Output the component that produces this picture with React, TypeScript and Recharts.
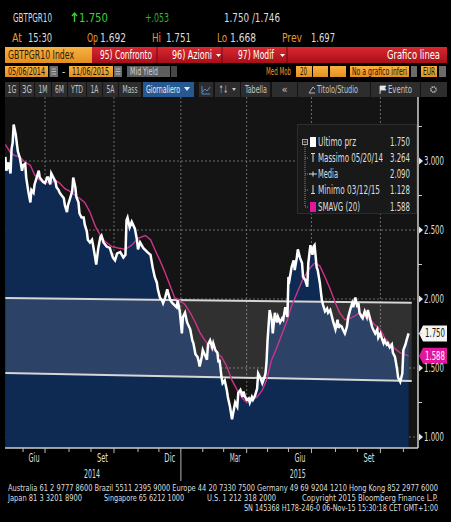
import React from "react";
import {
  Area,
  CartesianGrid,
  ComposedChart,
  Legend,
  Line,
  ReferenceLine,
  XAxis,
  YAxis,
} from "recharts";

// trading-day index since 05/06/2014 and BTP 10y yield
const tradingDay = [
  2, 3, 5, 7, 8, 9, 10, 12, 14, 16, 18, 19,
  21, 22, 24, 26, 27, 29, 30, 32, 34, 35, 37, 38,
  40, 42, 43, 45, 46, 48, 50, 51, 53, 54, 56, 58,
  59, 61, 62, 64, 66, 67, 69, 70, 72, 73, 75, 77,
  78, 80, 81, 83, 85, 86, 88, 89, 91, 93, 94, 96,
  99, 102, 105, 107, 109, 112, 115, 117, 118, 119, 121, 123,
  126, 128, 129, 131, 134, 138, 141, 143, 145, 147, 148, 150,
  152, 153, 155, 157, 158, 160, 162, 166, 167, 169, 171, 172,
  174, 176, 179, 181, 182, 184, 186, 187, 188, 190, 191, 195,
  196, 198, 200, 201, 203, 205, 206, 207, 209, 210, 212, 214,
  215, 217, 219, 220, 222, 224, 225, 227, 229, 230, 231, 233,
  235, 236, 238, 239, 241, 243, 244, 246, 248, 249, 251, 252,
  253, 255, 257, 258, 260, 262, 263, 265, 267, 268, 270, 272,
  273, 274, 276, 278, 279, 281, 282, 284, 286, 287, 289, 291,
  292, 294, 296, 297, 298, 300, 301, 303, 305, 306, 308, 310,
  311, 313, 315, 316, 318, 320, 321, 322, 324, 325, 327, 329,
  330, 332, 334, 335, 337, 339, 340, 341, 343, 344, 346, 348,
  349, 351, 353, 354, 356, 358, 359, 361, 363, 364, 365, 367,
  368, 370, 372, 373, 375, 377, 378, 380, 382, 383, 385, 386,
  388,
];
const closeYield = [
  3.03, 2.93, 2.99, 2.91, 3.09, 3.13, 3.264, 3.19, 3.07, 3.02, 2.93, 2.97,
  2.98, 2.88, 2.78, 2.7, 2.79, 2.77, 2.83, 2.88, 2.93, 2.88, 2.86, 2.85,
  2.84, 2.88, 2.88, 2.83, 2.91, 2.88, 2.85, 2.81, 2.79, 2.77, 2.75, 2.73,
  2.68, 2.63, 2.68, 2.73, 2.78, 2.88, 2.81, 2.74, 2.7, 2.62, 2.59, 2.59,
  2.54, 2.49, 2.43, 2.41, 2.43, 2.39, 2.3, 2.25, 2.37, 2.45, 2.46, 2.41,
  2.38, 2.37, 2.3, 2.28, 2.33, 2.34, 2.3, 2.32, 2.57, 2.59, 2.52, 2.56,
  2.51, 2.43, 2.36, 2.41, 2.37, 2.34, 2.32, 2.23, 2.16, 2.12, 2.07, 2.01,
  1.99, 1.97, 2.01, 2.07, 2.04, 1.99, 1.97, 1.94, 1.99, 1.91, 1.75, 1.87,
  1.9, 1.83, 1.78, 1.7, 1.68, 1.6, 1.58, 1.55, 1.51, 1.58, 1.63, 1.56,
  1.67, 1.7, 1.65, 1.68, 1.63, 1.61, 1.54, 1.56, 1.43, 1.39, 1.41, 1.34,
  1.29, 1.22, 1.128, 1.17, 1.25, 1.22, 1.32, 1.34, 1.29, 1.33, 1.3, 1.27,
  1.28, 1.25, 1.29, 1.27, 1.3, 1.35, 1.46, 1.43, 1.39, 1.41, 1.46, 1.54,
  1.7, 1.92, 1.85, 1.75, 1.9, 1.83, 1.87, 1.83, 1.86, 1.85, 1.94, 1.87,
  2.16, 2.14, 2.23, 2.28, 2.21, 2.3, 2.36, 2.3, 2.26, 2.16, 2.14, 2.09,
  2.26, 2.39, 2.32, 2.38, 2.39, 2.23, 2.21, 2.12, 1.99, 1.96, 1.91, 1.93,
  1.9, 1.92, 1.86, 1.83, 1.78, 1.85, 1.79, 1.81, 1.8, 1.78, 1.75, 1.8,
  1.86, 1.92, 1.97, 1.94, 2.01, 1.94, 1.97, 1.9, 1.87, 1.86, 1.91, 1.87,
  1.92, 1.86, 1.8, 1.78, 1.75, 1.78, 1.72, 1.75, 1.7, 1.68, 1.7, 1.67,
  1.68, 1.65, 1.67, 1.61, 1.58, 1.49, 1.43, 1.4, 1.46, 1.63, 1.67, 1.7,
  1.75,
];

// SMAVG (20) as drawn
const smaDay = [
  2, 7, 11, 16, 21, 26, 30, 35, 40, 45, 50, 54, 59, 64, 69, 73, 78, 83, 88, 93,
  97, 104, 110, 117, 123, 129, 136, 141, 145, 150, 155, 160, 164, 169, 174, 179, 184, 188, 193, 198,
  203, 209, 214, 219, 224, 229, 233, 238, 243, 248, 252, 257, 262, 267, 272, 276, 281, 286, 292, 298,
  303, 308, 313, 318, 322, 327, 332, 337, 341, 346, 351, 356, 361, 365, 370, 375, 380, 388,
];
const smaValue = [
  3.12, 3.06, 3.04, 3.03, 2.99, 2.97, 2.9, 2.86, 2.85, 2.84, 2.86, 2.84, 2.8, 2.78, 2.75, 2.73, 2.7, 2.63, 2.53, 2.46,
  2.42, 2.38, 2.37, 2.36, 2.39, 2.44, 2.46, 2.43, 2.36, 2.28, 2.19, 2.09, 2.01, 1.99, 1.96, 1.9, 1.83, 1.76, 1.7, 1.65,
  1.62, 1.58, 1.51, 1.41, 1.34, 1.28, 1.25, 1.27, 1.29, 1.34, 1.41, 1.56, 1.65, 1.75, 1.85, 1.95, 2.04, 2.13, 2.21, 2.26,
  2.24, 2.16, 2.07, 1.97, 1.9, 1.85, 1.86, 1.88, 1.9, 1.87, 1.85, 1.81, 1.78, 1.72, 1.68, 1.64, 1.61, 1.588,
];

// drawn channel (two lines)
const channelDay = [2, 391];
const channelLow = [1.464, 1.406];
const channelHigh = [2.007, 1.972];

const monthStarts = [19, 40, 63, 84, 106, 129, 149, 170, 191, 211, 233, 253, 273, 295, 318, 339, 361, 383];
const quarterStarts = [40, 106, 170, 233, 295, 361];
const monthLabelDay = [29.5, 95, 159.5, 222, 284, 350];
const monthLabels = ["Giu", "Set", "Dic", "Mar", "Giu", "Set"];
const yearLabelDay = [85, 282];
const yearLabels = ["2014", "2015"];
const yearBreaks = [170];
const yTicks = [1, 1.25, 1.5, 1.75, 2, 2.25, 2.5, 2.75, 3, 3.25];
const gridValues = [1, 1.5, 2, 2.5, 3];

const lastPrice = 1.75;
const lastSma = 1.588;
const statLabels = ["Ultimo prz", "Massimo 05/20/14", "Media", "Minimo 03/12/15", "SMAVG (20)"];
const statValues = [1.75, 3.264, 2.09, 1.128, 1.588];

const priceData = tradingDay.map((d, i) => ({ d, v: closeYield[i] }));
const smaData = smaDay.map((d, i) => ({ d, s: smaValue[i] }));
const channelData = channelDay.map((d, i) => ({ d, band: [channelLow[i], channelHigh[i]] }));
const xTicks = [...monthStarts, ...monthLabelDay, ...yearLabelDay].sort((a, b) => a - b);

const FONT = '"Liberation Sans Narrow", "DejaVu Sans Condensed", "Liberation Sans", Arial, sans-serif';
const ORANGE = "#e8992e";

function Txt({ x, y, w, size = 12, fill = "#dedede", anchor = "start", children }: any) {
  return (
    <text
      x={x}
      y={y}
      fontSize={size}
      fill={fill}
      fontFamily={FONT}
      textAnchor={anchor}
      textLength={w}
      lengthAdjust={w ? "spacingAndGlyphs" : undefined}
    >
      {children}
    </text>
  );
}

function XTick({ x, y, payload }: any) {
  const v = payload.value;
  if (monthStarts.includes(v)) {
    const major = quarterStarts.includes(v);
    return (
      <g>
        <line x1={x} x2={x} y1={y} y2={y + (major ? 5 : 4)} stroke="#bdbdbd" />
        {yearBreaks.includes(v) && <line x1={x} x2={x} y1={y + 5} y2={y + 33} stroke="#7a7a7a" strokeWidth={1.5} />}
      </g>
    );
  }
  const li = monthLabelDay.indexOf(v);
  if (li >= 0)
    return (
      <Txt x={x} y={y + 14} w={11} size={11.5} anchor="middle">
        {monthLabels[li]}
      </Txt>
    );
  const yi = yearLabelDay.indexOf(v);
  if (yi >= 0)
    return (
      <Txt x={x} y={y + 30} w={16} size={11.5} anchor="middle">
        {yearLabels[yi]}
      </Txt>
    );
  return null;
}

function YTick({ x, y, payload }: any) {
  const v = payload.value;
  if (Math.round(v * 2) === v * 2) {
    return (
      <g>
        <path d={`M${x + 1},${y - 3.5} L${x + 5},${y} L${x + 1},${y + 3.5} Z`} fill="#e6e6e6" />
        <Txt x={x + 6} y={y + 4} w={20} size={11.5}>
          {v.toFixed(3)}
        </Txt>
      </g>
    );
  }
  return <line x1={x} x2={x + 4} y1={y} y2={y} stroke="#cfcfcf" />;
}

function ValueTag({ viewBox, text, bg, fg }: any) {
  if (!viewBox) return null;
  const x = viewBox.x + viewBox.width + 1;
  const y = viewBox.y;
  return (
    <g>
      <path d={`M${x},${y} L${x + 4},${y - 8} L${x + 28},${y - 8} L${x + 28},${y + 8} L${x + 4},${y + 8} Z`} fill={bg} />
      <Txt x={x + 16} y={y + 4} w={20} size={11.5} fill={fg} anchor="middle">
        {text}
      </Txt>
    </g>
  );
}

function LegendBox() {
  const rows = [18, 34, 50, 66, 83];
  const widths = [38, 65, 20, 62, 42];
  return (
    <svg width={120} height={90} style={{ display: "block" }}>
      <rect x={0.5} y={0.5} width={119} height={89} fill="#191919" stroke="#2c2c2c" />
      <line x1={8} x2={8} y1={21} y2={83} stroke="#8a8a8a" strokeDasharray="1 1" />
      {rows.slice(1).map((r) => (
        <line key={r} x1={8} x2={12} y1={r} y2={r} stroke="#8a8a8a" strokeDasharray="1 1" />
      ))}
      <rect x={5.5} y={15.5} width={5} height={5} fill="none" stroke="#aaa" />
      <line x1={6.5} x2={9.5} y1={18} y2={18} stroke="#aaa" />
      <rect x={13} y={13} width={6} height={10} fill="#fff" />
      <line x1={16} x2={16} y1={29} y2={38} stroke="#ddd" />
      <line x1={14} x2={18} y1={29.5} y2={29.5} stroke="#ddd" />
      <line x1={12} x2={20} y1={50} y2={50} stroke="#ddd" />
      <line x1={16} x2={16} y1={47.5} y2={52.5} stroke="#ddd" />
      <line x1={16} x2={16} y1={61} y2={70} stroke="#ddd" />
      <line x1={14} x2={18} y1={69.5} y2={69.5} stroke="#ddd" />
      <rect x={13} y={78} width={6} height={10} fill="#e0179a" />
      {statLabels.map((l, i) => (
        <Txt key={l} x={21} y={rows[i] + 4} w={widths[i]} size={11.5}>
          {l}
        </Txt>
      ))}
      {statValues.map((v, i) => (
        <Txt key={i} x={113} y={rows[i] + 4} w={20} size={11.5} anchor="end">
          {v.toFixed(3)}
        </Txt>
      ))}
    </svg>
  );
}

function Header() {
  const btns: [number, number, string, number][] = [
    [5, 19, "1G", 9],
    [20, 34, "3G", 10],
    [35, 51, "1M", 9],
    [52, 67, "6M", 9],
    [68, 86, "YTD", 12],
    [87, 102, "1A", 8],
    [103, 118, "5A", 8],
    [119, 141, "Mass", 15],
  ];
  return (
    <svg width={451} height={97} style={{ position: "absolute", left: 0, top: 0 }}>
      <defs>
        <linearGradient id="red" x1="0" y1="0" x2="0" y2="1">
          <stop offset="0" stopColor="#d92830" />
          <stop offset="1" stopColor="#a90f19" />
        </linearGradient>
        <linearGradient id="org" x1="0" y1="0" x2="0" y2="1">
          <stop offset="0" stopColor="#f8b243" />
          <stop offset="1" stopColor="#e38f1f" />
        </linearGradient>
      </defs>
      <Txt x={13} y={22} w={39} size={13}>GBTPGR10</Txt>
      <path d="M74.5,22 L74.5,13 M72,16 L74.5,13 L77,16" stroke="#3ccf3c" strokeWidth={1.4} fill="none" />
      <Txt x={79} y={22} w={29} size={13} fill="#3ccf3c">1.750</Txt>
      <Txt x={145} y={22} w={24} size={13} fill="#2fb52f">+.053</Txt>
      <Txt x={224} y={22} w={56} size={13}>1.750 /1.746</Txt>

      <Txt x={12} y={42} w={10} size={13} fill={ORANGE}>At</Txt>
      <Txt x={28} y={42} w={24} size={13}>15:30</Txt>
      <Txt x={87} y={42} w={11} size={13} fill={ORANGE}>Op</Txt>
      <Txt x={100} y={42} w={26} size={13}>1.692</Txt>
      <Txt x={152} y={42} w={9} size={13} fill={ORANGE}>Hi</Txt>
      <Txt x={166} y={42} w={25} size={13}>1.751</Txt>
      <Txt x={217} y={42} w={10} size={13} fill={ORANGE}>Lo</Txt>
      <Txt x={230} y={42} w={26} size={13}>1.668</Txt>
      <Txt x={282} y={42} w={20} size={13} fill={ORANGE}>Prev</Txt>
      <Txt x={311} y={42} w={24} size={13}>1.697</Txt>

      <rect x={5} y={47} width={87} height={16} fill="url(#org)" />
      <Txt x={8} y={59} w={66} size={12.5} fill="#2a1c05">GBTPGR10 Index</Txt>
      <rect x={92} y={47} width={355} height={16} fill="url(#red)" />
      {[157, 222, 287].map((sx) => (
        <line key={sx} x1={sx} x2={sx} y1={47} y2={63} stroke="#730810" />
      ))}
      <Txt x={100} y={59} w={52} size={12.5} fill="#fff">95) Confronto</Txt>
      <Txt x={172} y={59} w={40} size={12.5} fill="#fff">96) Azioni</Txt>
      <path d="M216,54 L221,54 L218.5,57 Z" fill="#fff" />
      <Txt x={238} y={59} w={36} size={12.5} fill="#fff">97) Modif</Txt>
      <path d="M280,54 L285,54 L282.5,57 Z" fill="#fff" />
      <Txt x={440} y={59} w={53} size={12.5} fill="#fff" anchor="end">Grafico linea</Txt>

      <rect x={5} y={66} width={43} height={11} fill="url(#org)" />
      <Txt x={8} y={75} w={37} size={10} fill="#1c1406">05/06/2014</Txt>
      <rect x={49.5} y={66} width={8.5} height={11} fill="#6b6b6b" />
      <path d="M51.5,69 H56 M51.5,71.5 H56 M51.5,74 H56" stroke="#ccc" strokeWidth={0.8} />
      <Txt x={62} y={75} size={10}>-</Txt>
      <rect x={69} y={66} width={44} height={11} fill="url(#org)" />
      <Txt x={72} y={75} w={37} size={10} fill="#1c1406">11/06/2015</Txt>
      <rect x={114} y={66} width={8} height={11} fill="#6b6b6b" />
      <path d="M115.5,69 H120.5 M115.5,71.5 H120.5 M115.5,74 H120.5" stroke="#ccc" strokeWidth={0.8} />
      <rect x={127} y={66} width={43} height={11} fill="#5e5e5e" />
      <Txt x={130} y={75} w={28} size={10} fill="#d0d0d0">Mid Yield</Txt>
      <rect x={171} y={66} width={6} height={11} fill="#474747" />
      <Txt x={266} y={75} w={25} size={10} fill={ORANGE}>Med Mob</Txt>
      <rect x={296} y={66} width={16} height={11} fill="url(#org)" />
      <Txt x={300} y={75} w={7} size={10} fill="#1c1406">20</Txt>
      <rect x={313} y={66} width={15} height={11} fill="url(#org)" />
      <rect x={330} y={66} width={16} height={11} fill="url(#org)" />
      <rect x={350} y={66} width={59} height={11} fill="url(#org)" />
      <Txt x={352} y={75} w={55} size={10} fill="#1c1406">No a grafico inferi</Txt>
      <rect x={411} y={66} width={6} height={11} fill="#6b6b6b" />
      <rect x={421} y={66} width={16} height={11} fill="url(#org)" />
      <Txt x={423} y={75} w={12} size={10} fill="#1c1406">EUR</Txt>
      <rect x={439} y={66} width={7} height={11} fill="#6b6b6b" />

      <rect x={5} y={82} width={442} height={15} fill="#141414" />
      {btns.map(([a, b, t, w]) => (
        <g key={t}>
          <rect x={a} y={82} width={b - a} height={15} fill="#2d2d2d" />
          <Txt x={(a + b) / 2} y={93} w={w} size={10.5} fill="#c4c4c4" anchor="middle">
            {t}
          </Txt>
        </g>
      ))}
      <rect x={143} y={82} width={51} height={15} fill="#265891" />
      <Txt x={146} y={93} w={34} size={10.5} fill="#ececec">Giornaliero</Txt>
      <path d="M184,87 L190,87 L187,91 Z" fill="#ececec" />
      <rect x={199} y={82} width={14} height={15} fill="#2d2d2d" />
      <path d="M202,86 V94 H210 M202.5,92 L205,89 L207,91 L210,87" stroke="#5b95d6" fill="none" strokeWidth={0.9} />
      <rect x={215} y={82} width={25} height={15} fill="#2d2d2d" />
      <Txt x={219} y={93} w={9} size={10.5} fill="#c4c4c4">↑↓</Txt>
      <path d="M232,88 L236,88 L234,91 Z" fill="#c4c4c4" />
      <rect x={241} y={82} width={29} height={15} fill="#2d2d2d" />
      <Txt x={245} y={93} w={22} size={10.5} fill="#c4c4c4">Tabella</Txt>
      <rect x={272} y={82} width={25} height={15} fill="#2d2d2d" />
      <Txt x={284.5} y={93} size={11} fill="#c4c4c4" anchor="middle">«</Txt>
      <rect x={298} y={82} width={72} height={15} fill="#2d2d2d" />
      <path d="M309,93 L313,87 L315,89 M309,93 H315" stroke="#c4c4c4" fill="none" strokeWidth={0.9} />
      <Txt x={317} y={93} w={41} size={10.5} fill="#c4c4c4">Titolo/Studio</Txt>
      <rect x={371} y={82} width={49} height={15} fill="#2d2d2d" />
      <path d="M380,94 V86 H386 L384.5,88 L386,90 H380.5" fill="#e6e6e6" stroke="#e6e6e6" strokeWidth={0.8} />
      <Txt x={388} y={93} w={24} size={10.5} fill="#c4c4c4">Evento</Txt>
      <rect x={421} y={82} width={26} height={15} fill="#2d2d2d" />
      <circle cx={433.5} cy={89.5} r={2.6} fill="none" stroke="#c4c4c4" strokeWidth={1.6} strokeDasharray="1.2 0.8" />
    </svg>
  );
}

function Footer() {
  return (
    <svg width={451} height={42} style={{ position: "absolute", left: 0, top: 480 }}>
      <Txt x={8} y={11} w={430} size={9.5}>
        Australia 61 2 9777 8600 Brazil 5511 2395 9000 Europe 44 20 7330 7500 Germany 49 69 9204 1210 Hong Kong 852 2977 6000
      </Txt>
      <Txt x={8} y={21} w={74} size={9.5}>Japan 81 3 3201 8900</Txt>
      <Txt x={104} y={21} w={80} size={9.5}>Singapore 65 6212 1000</Txt>
      <Txt x={207} y={21} w={69} size={9.5}>U.S. 1 212 318 2000</Txt>
      <Txt x={302} y={21} w={136} size={9.5}>Copyright 2015 Bloomberg Finance L.P.</Txt>
      <Txt x={244} y={31} w={194} size={9.5}>SN 145368 H178-246-0 06-Nov-15 15:30:18 CET  GMT+1:00</Txt>
    </svg>
  );
}

export default function App() {
  return (
    <div
      style={{
        position: "fixed",
        left: 0,
        top: 0,
        width: 451,
        height: 522,
        background: "#000",
        overflow: "hidden",
      }}
    >
      <Header />
      <div style={{ position: "absolute", left: 0, top: 96 }}>
        <ComposedChart width={451} height={392} data={priceData} margin={{ top: 1, right: 0, bottom: 0, left: 5 }}>
          <CartesianGrid fill="#141414" stroke="none" horizontalValues={gridValues} verticalValues={quarterStarts} />
          <XAxis
            type="number"
            dataKey="d"
            domain={[1.7, 397]}
            allowDataOverflow
            ticks={xTicks}
            interval={0}
            tick={XTick}
            tickLine={false}
            tickSize={0}
            tickMargin={0}
            height={40}
            axisLine={{ stroke: "#cfcfcf", strokeWidth: 1.5 }}
          />
          <YAxis
            orientation="right"
            type="number"
            domain={[0.92, 3.464]}
            allowDataOverflow
            ticks={yTicks}
            interval={0}
            tick={YTick}
            tickLine={false}
            tickSize={0}
            tickMargin={0}
            width={33}
            axisLine={{ stroke: "#cfcfcf", strokeWidth: 1.5 }}
          />
          <Area type="linear" dataKey="v" stroke="none" fill="#0f2a52" fillOpacity={1} isAnimationActive={false} />
          <CartesianGrid
            stroke="#6a6a6a"
            strokeDasharray="2 2"
            horizontalValues={gridValues}
            verticalValues={quarterStarts}
          />
          <Area
            data={channelData}
            type="linear"
            dataKey="band"
            stroke="#d6d6d6"
            strokeWidth={2}
            fill="#ffffff"
            fillOpacity={0.12}
            isAnimationActive={false}
          />
          <Line data={smaData} type="linear" dataKey="s" stroke="#cc3488" strokeWidth={1.4} dot={false} isAnimationActive={false} />
          <Line type="linear" dataKey="v" stroke="#ffffff" strokeWidth={2.5} dot={false} isAnimationActive={false} />
          <ReferenceLine
            y={lastPrice}
            stroke="none"
            ifOverflow="visible"
            label={<ValueTag text={lastPrice.toFixed(3)} bg="#f4f4f4" fg="#111" />}
          />
          <ReferenceLine
            y={lastSma}
            stroke="none"
            ifOverflow="visible"
            label={<ValueTag text={lastSma.toFixed(3)} bg="#e0179a" fg="#fff" />}
          />
          <Legend
            layout="horizontal"
            verticalAlign="middle"
            align="center"
            content={() => <LegendBox />}
            wrapperStyle={{ position: "absolute", left: 297, top: 28, width: 120, height: 90 }}
          />
        </ComposedChart>
      </div>
      <Footer />
    </div>
  );
}
